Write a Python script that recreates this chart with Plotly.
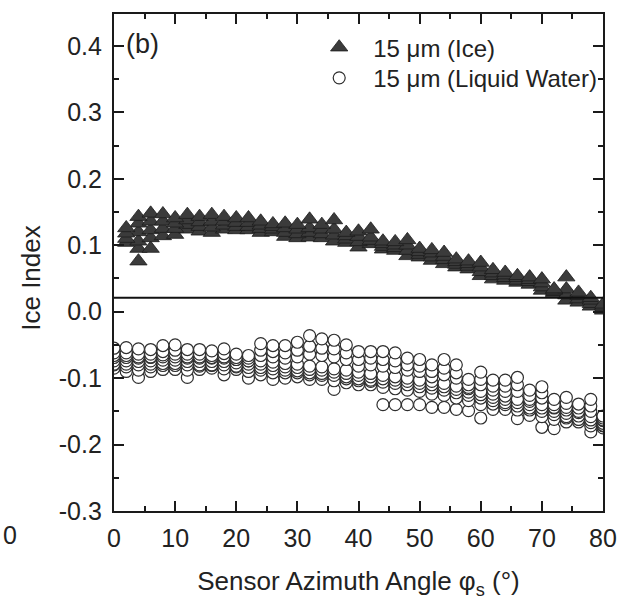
import plotly.graph_objects as go

# ---------------- data ----------------
ice_x = [2, 4, 6, 8, 10, 12, 14, 16, 18, 20,
         22, 24, 26, 28, 30, 32, 34, 36, 38, 40,
         42, 44, 46, 48, 50, 52, 54, 56, 58, 60,
         62, 64, 66, 68, 70, 72, 74, 76, 78, 80]

ice_top = [0.126, 0.143, 0.148, 0.147, 0.141, 0.146, 0.143, 0.146, 0.143, 0.141,
           0.141, 0.136, 0.132, 0.133, 0.131, 0.139, 0.131, 0.138, 0.119, 0.121,
           0.124, 0.106, 0.105, 0.108, 0.095, 0.093, 0.089, 0.079, 0.076, 0.074,
           0.063, 0.059, 0.054, 0.052, 0.049, 0.034, 0.052, 0.029, 0.021, 0.011]
ice_m1 = [0.118, 0.133, 0.136, 0.136, 0.133, 0.138, 0.135, 0.136, 0.136, 0.134,
          0.134, 0.130, 0.128, 0.126, 0.124, 0.126, 0.124, 0.124, 0.114, 0.113,
          0.112, 0.102, 0.100, 0.100, 0.090, 0.088, 0.083, 0.075, 0.072, 0.067,
          0.058, 0.055, 0.051, 0.048, 0.043, 0.032, 0.034, 0.024, 0.017, 0.008]
ice_m2 = [0.110, 0.120, 0.123, 0.125, 0.125, 0.131, 0.128, 0.127, 0.130, 0.128,
          0.128, 0.125, 0.124, 0.119, 0.117, 0.119, 0.117, 0.115, 0.109, 0.105,
          0.107, 0.098, 0.096, 0.092, 0.086, 0.082, 0.078, 0.071, 0.068, 0.060,
          0.054, 0.051, 0.047, 0.045, 0.037, 0.030, 0.025, 0.019, 0.012, 0.005]
ice_bot = [0.104, 0.106, 0.111, 0.114, 0.116, 0.124, 0.121, 0.119, 0.124, 0.123,
           0.123, 0.119, 0.120, 0.113, 0.111, 0.112, 0.111, 0.106, 0.104, 0.097,
           0.102, 0.094, 0.092, 0.084, 0.082, 0.077, 0.072, 0.067, 0.064, 0.054,
           0.049, 0.047, 0.044, 0.041, 0.032, 0.028, 0.017, 0.014, 0.008, 0.002]
ice_out_x = [4, 4, 6]
ice_out_y = [0.095, 0.076, 0.095]

lw_x = [0, 2, 4, 6, 8, 10, 12, 14, 16, 18,
        20, 22, 24, 26, 28, 30, 32, 34, 36, 38,
        40, 42, 44, 46, 48, 50, 52, 54, 56, 58,
        60, 62, 64, 66, 68, 70, 72, 74, 76, 78, 80]

lw_top = [-0.055, -0.054, -0.056, -0.057, -0.051, -0.050, -0.057, -0.057, -0.059, -0.056,
          -0.064, -0.066, -0.048, -0.051, -0.051, -0.046, -0.036, -0.041, -0.043, -0.050,
          -0.060, -0.060, -0.060, -0.062, -0.070, -0.072, -0.080, -0.072, -0.080, -0.102,
          -0.091, -0.103, -0.103, -0.099, -0.118, -0.113, -0.132, -0.129, -0.139, -0.132, -0.157]
lw_upper = [-0.062, -0.062, -0.064, -0.064, -0.060, -0.058, -0.064, -0.064, -0.066, -0.063,
            -0.069, -0.070, -0.058, -0.060, -0.062, -0.058, -0.052, -0.055, -0.056, -0.062,
            -0.072, -0.070, -0.072, -0.074, -0.080, -0.082, -0.090, -0.085, -0.092, -0.110,
            -0.102, -0.112, -0.112, -0.110, -0.126, -0.122, -0.140, -0.138, -0.145, -0.142, -0.160]
lw_upper2 = [-0.066, -0.066, -0.068, -0.068, -0.065, -0.064, -0.068, -0.068, -0.069, -0.068,
             -0.072, -0.074, -0.066, -0.068, -0.070, -0.068, -0.064, -0.066, -0.068, -0.072,
             -0.082, -0.080, -0.082, -0.084, -0.088, -0.090, -0.098, -0.095, -0.100, -0.114,
             -0.110, -0.118, -0.120, -0.120, -0.132, -0.130, -0.144, -0.144, -0.150, -0.150, -0.163]
lw_band_hi = [-0.069, -0.069, -0.070, -0.069, -0.068, -0.068, -0.070, -0.070, -0.070, -0.070,
              -0.072, -0.074, -0.074, -0.076, -0.078, -0.079, -0.082, -0.083, -0.086, -0.088,
              -0.091, -0.093, -0.096, -0.098, -0.100, -0.103, -0.105, -0.108, -0.112, -0.116,
              -0.120, -0.124, -0.127, -0.132, -0.135, -0.140, -0.145, -0.148, -0.152, -0.158, -0.164]
lw_band = [-0.074, -0.074, -0.075, -0.074, -0.073, -0.073, -0.075, -0.075, -0.075, -0.075,
           -0.077, -0.079, -0.079, -0.081, -0.083, -0.084, -0.087, -0.088, -0.091, -0.093,
           -0.096, -0.098, -0.101, -0.103, -0.105, -0.108, -0.110, -0.113, -0.117, -0.121,
           -0.125, -0.129, -0.132, -0.137, -0.140, -0.145, -0.150, -0.153, -0.157, -0.163, -0.168]
lw_band_lo = [-0.079, -0.079, -0.080, -0.079, -0.078, -0.078, -0.080, -0.080, -0.080, -0.080,
              -0.082, -0.084, -0.084, -0.086, -0.088, -0.089, -0.092, -0.093, -0.096, -0.098,
              -0.101, -0.103, -0.106, -0.108, -0.110, -0.113, -0.115, -0.118, -0.122, -0.126,
              -0.130, -0.134, -0.137, -0.142, -0.145, -0.150, -0.155, -0.158, -0.162, -0.167, -0.171]
lw_lower = [-0.080, -0.083, -0.088, -0.083, -0.081, -0.081, -0.088, -0.082, -0.081, -0.086,
            -0.083, -0.090, -0.088, -0.092, -0.092, -0.092, -0.095, -0.096, -0.104, -0.101,
            -0.104, -0.105, -0.114, -0.116, -0.118, -0.120, -0.124, -0.126, -0.130, -0.134,
            -0.140, -0.139, -0.140, -0.148, -0.148, -0.158, -0.162, -0.160, -0.162, -0.172, -0.172]
lw_bottom = [-0.085, -0.090, -0.099, -0.090, -0.087, -0.087, -0.099, -0.087, -0.085, -0.095,
             -0.087, -0.100, -0.095, -0.102, -0.100, -0.098, -0.102, -0.102, -0.117, -0.107,
             -0.110, -0.110, -0.140, -0.140, -0.140, -0.140, -0.144, -0.144, -0.147, -0.149,
             -0.160, -0.147, -0.147, -0.161, -0.156, -0.174, -0.176, -0.166, -0.166, -0.181, -0.175]

threshold = 0.021
x_ticks = [0, 10, 20, 30, 40, 50, 60, 70, 80]
y_ticks = [-0.3, -0.2, -0.1, 0.0, 0.1, 0.2, 0.3, 0.4]
y_tick_text = ["-0.3", "-0.2", "-0.1", "0.0", "0.1", "0.2", "0.3", "0.4"]

# ---------------- figure ----------------
FONT = "Liberation Sans, Arial, sans-serif"
TXT = "#222222"
fig = go.Figure()

ice_marker = dict(symbol="triangle-up", size=15, color="#3b3b3b",
                  line=dict(color="#1c1c1c", width=0.8))
lw_marker = dict(symbol="circle", size=12, color="white",
                 line=dict(color="#2e2e2e", width=1.2))

lw_series = [lw_bottom, lw_lower, lw_band_lo, lw_band, lw_band_hi, lw_upper2, lw_upper, lw_top]
for i, s in enumerate(lw_series):
    fig.add_trace(go.Scatter(x=lw_x, y=s, mode="markers", marker=lw_marker,
                             name="15 μm (Liquid Water)", legendgroup="lw", legend="legend2",
                             showlegend=(i == len(lw_series) - 1)))

ice_series = [ice_bot, ice_m2, ice_m1, ice_top]
fig.add_trace(go.Scatter(x=ice_out_x, y=ice_out_y, mode="markers", marker=ice_marker,
                         showlegend=False))
for i, s in enumerate(ice_series):
    fig.add_trace(go.Scatter(x=ice_x, y=s, mode="markers", marker=ice_marker,
                             name="15 μm (Ice)", legendgroup="ice", legend="legend",
                             showlegend=(i == len(ice_series) - 1)))

fig.add_shape(type="line", xref="x", yref="y", x0=0, x1=80, y0=threshold, y1=threshold,
              line=dict(color="#111111", width=2))

axis_common = dict(showline=True, linecolor="#1a1a1a", linewidth=2.2, mirror="ticks",
                   ticks="inside", ticklen=10, tickwidth=2, tickcolor="#1a1a1a",
                   showgrid=False, zeroline=False,
                   tickfont=dict(family=FONT, size=25, color=TXT))

fig.update_xaxes(range=[0, 80], tickvals=x_ticks,
                 minor=dict(dtick=5, tick0=0, ticks="inside", ticklen=5, tickwidth=1.6,
                            tickcolor="#1a1a1a", showgrid=False),
                 title=dict(text="Sensor Azimuth Angle φ<sub>s</sub> (°)",
                            font=dict(family=FONT, size=26, color=TXT), standoff=21),
                 ticklabelstandoff=4,
                 **axis_common)
fig.update_yaxes(range=[-0.3, 0.448], tickvals=y_ticks, ticktext=y_tick_text,
                 minor=dict(dtick=0.05, tick0=0, ticks="inside", ticklen=5, tickwidth=1.6,
                            tickcolor="#1a1a1a", showgrid=False),
                 ticklabelstandoff=5,
                 **axis_common)

# y-axis title (rotated text, slightly below the axis centre as in the reference)
fig.add_annotation(text="Ice Index", textangle=-90, xref="paper", yref="paper",
                   x=-0.170, y=0.469, xanchor="center", yanchor="middle", showarrow=False,
                   font=dict(family=FONT, size=26, color=TXT))
fig.add_annotation(text="(b)", xref="paper", yref="paper", x=0.020, y=0.940,
                   xanchor="left", yanchor="middle", showarrow=False,
                   font=dict(family=FONT, size=27, color=TXT))
fig.add_annotation(text="0", xref="paper", yref="paper", x=-0.2312, y=-0.048,
                   xanchor="left", yanchor="middle", showarrow=False,
                   font=dict(family=FONT, size=25, color=TXT))

legend_common = dict(xanchor="left", yanchor="middle", bgcolor="rgba(0,0,0,0)",
                     font=dict(family=FONT, size=24, color=TXT), itemwidth=58,
                     itemsizing="trace")
fig.update_layout(
    width=629, height=603,
    margin=dict(l=114, r=22, t=12, b=88),
    plot_bgcolor="white", paper_bgcolor="white",
    legend=dict(x=0.391, y=0.9324, **legend_common),
    legend2=dict(x=0.391, y=0.8708, **legend_common),
)

fig.write_html("out.html", config={"displayModeBar": False},
               post_script="document.body.style.margin='0';")
